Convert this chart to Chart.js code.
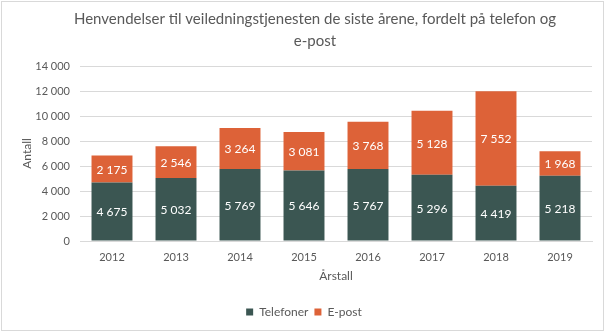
<!DOCTYPE html>
<html>
<head>
<meta charset="utf-8">
<script src="https://cdn.jsdelivr.net/npm/chart.js@4"></script>
<style>
  html, body { margin: 0; padding: 0; background: #fff; }
  #wrap { width: 608px; height: 332px; }
</style>
</head>
<body>
<div id="wrap"><canvas id="myChart" width="608" height="332"></canvas></div>
<script>
const years = ['2012', '2013', '2014', '2015', '2016', '2017', '2018', '2019'];
const telefoner = [4675, 5032, 5769, 5646, 5767, 5296, 4419, 5218];
const epost = [2175, 2546, 3264, 3081, 3768, 5128, 7552, 1968];
const titleLines = ['Henvendelser til veiledningstjenesten de siste årene, fordelt på telefon og', 'e-post'];

const FONT = 'Lato, "Noto Sans", sans-serif';
const GREY = '#595959';

function spaced(v) {
    return String(Math.round(v)).replace(/\B(?=(\d{3})+(?!\d))/g, ' ');
}

// white background, thin frame and the two-line heading
const frame = {
    id: 'frame',
    beforeDraw(chart) {
        const ctx = chart.ctx;
        ctx.save();
        ctx.fillStyle = '#fff';
        ctx.fillRect(0, 0, chart.width, chart.height);
        ctx.strokeStyle = '#d9d9d9';
        ctx.lineWidth = 1;
        ctx.strokeRect(1.5, 1.5, 602, 329);
        ctx.fillStyle = GREY;
        ctx.font = '15px ' + FONT;
        ctx.textAlign = 'center';
        ctx.textBaseline = 'middle';
        ctx.fillText(titleLines[0], 315, 19);
        ctx.fillText(titleLines[1], 315, 41);
        ctx.restore();
    }
};

// value labels in the middle of each segment
const valueLabels = {
    id: 'valueLabels',
    afterDatasetsDraw(chart) {
        const ctx = chart.ctx;
        ctx.save();
        ctx.fillStyle = '#fff';
        ctx.font = '12px ' + FONT;
        ctx.textAlign = 'center';
        ctx.textBaseline = 'middle';
        chart.data.datasets.forEach((ds, i) => {
            const meta = chart.getDatasetMeta(i);
            meta.data.forEach((bar, j) => {
                const y = (bar.y + bar.base) / 2;
                ctx.fillText(spaced(ds.data[j]), bar.x, y + 1);
            });
        });
        ctx.restore();
    }
};

new Chart('myChart', {
    type: 'bar',
    data: {
        labels: years,
        datasets: [{
            label: 'Telefoner',
            data: telefoner,
            backgroundColor: '#3b5652',
            barPercentage: 0.64,
            categoryPercentage: 1
        }, {
            label: 'E-post',
            data: epost,
            backgroundColor: '#dd6238',
            barPercentage: 0.64,
            categoryPercentage: 1
        }]
    },
    options: {
        responsive: false,
        animation: false,
        layout: { padding: { left: 16, right: 16, top: 66, bottom: 4 } },
        plugins: {
            title: { display: false },
            tooltip: { enabled: false },
            legend: {
                position: 'bottom',
                labels: {
                    boxWidth: 7,
                    boxHeight: 7,
                    padding: 6,
                    color: GREY,
                    font: { family: FONT, size: 12 }
                }
            }
        },
        scales: {
            x: {
                stacked: true,
                afterFit(scale) { scale.height = 59; },
                grid: { display: false },
                border: { color: '#d9d9d9' },
                ticks: { color: GREY, font: { family: FONT, size: 11 }, padding: 2 },
                title: {
                    display: true,
                    text: 'Årstall',
                    color: GREY,
                    font: { family: FONT, size: 12 },
                    padding: { top: 0, bottom: 17 }
                }
            },
            y: {
                stacked: true,
                min: 0,
                max: 14000,
                afterFit(scale) { scale.width = 64; },
                grid: { color: '#d9d9d9', drawTicks: false },
                border: { display: false },
                ticks: {
                    stepSize: 2000,
                    color: GREY,
                    font: { family: FONT, size: 11 },
                    padding: 10,
                    callback: v => spaced(v)
                },
                title: {
                    display: true,
                    text: 'Antall',
                    color: GREY,
                    font: { family: FONT, size: 12 },
                    padding: { top: 4, bottom: 0 }
                }
            }
        }
    },
    plugins: [frame, valueLabels]
});
</script>
</body>
</html>
